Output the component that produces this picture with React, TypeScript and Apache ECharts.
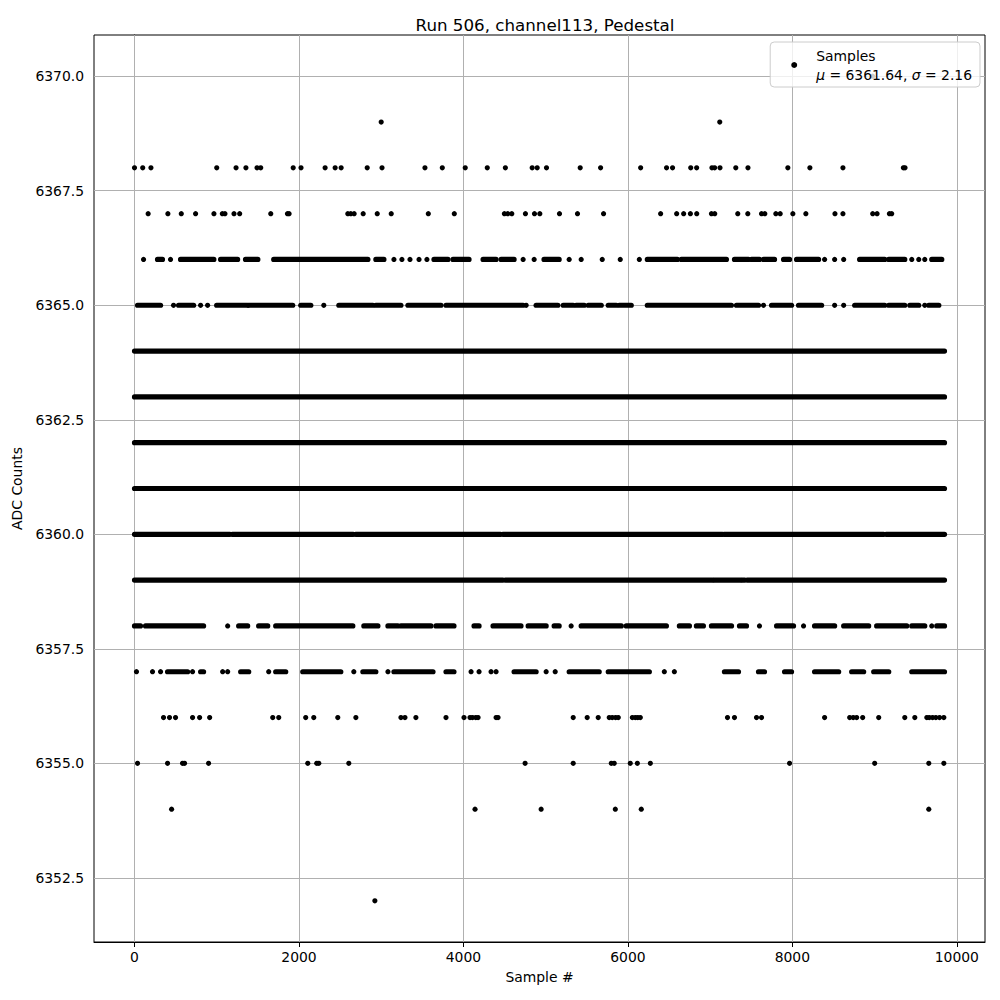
import React, { useEffect, useRef } from "react";
import * as echarts from "echarts";

// ---- Data (sample index positions per ADC level) ----
const xTicks = [0, 2000, 4000, 6000, 8000, 10000];
const yTicks = [6352.5, 6355, 6357.5, 6360, 6362.5, 6365, 6367.5, 6370];

// isolated samples
const row6370 = [8976];
const row6369 = [3000, 7117];
const row6368 = [0, 100, 200, 1000, 1235, 1355, 1490, 1535, 1930, 2025, 2318, 2440, 2513, 2830, 3010, 3532, 3743, 4022, 4290, 4510, 4836, 4897, 5010, 5420, 5668, 6155, 6470, 6543, 6764, 6836, 7022, 7055, 7120, 7312, 7460, 7945, 8213, 8615, 9350, 9370];
const row6367 = [166, 406, 569, 743, 966, 1068, 1100, 1210, 1279, 1657, 1860, 1880, 2594, 2630, 2671, 2781, 2952, 3122, 3573, 3889, 4498, 4539, 4588, 4754, 4864, 4929, 5168, 5387, 5704, 6398, 6593, 6678, 6760, 6837, 7016, 7056, 7336, 7458, 7625, 7665, 7799, 7852, 8006, 8164, 8518, 8615, 8977, 9030, 9180, 9208];
const row6366 = [110, 438, 3155, 3252, 3350, 3460, 3556, 4726, 4860, 5286, 5432, 5688, 5907, 6139, 8392, 8514, 8624, 9452, 9537, 9610];
const row6365 = [475, 804, 889, 2302, 4763, 7649, 8514, 8624, 9610];
const row6358 = [1133, 5310, 7600, 8136, 9695];
const row6357 = [24, 219, 317, 706, 1072, 1133, 1632, 2667, 3082, 4093, 4190, 4336, 4397, 5006, 5116, 6443, 6565];
const row6356 = [353, 426, 499, 706, 792, 914, 1681, 1754, 2082, 2180, 2472, 2692, 3240, 3289, 3422, 3788, 4007, 4080, 4110, 4150, 4178, 4397, 4421, 5335, 5505, 5639, 5773, 5810, 5850, 5883, 6054, 6090, 6120, 6151, 7211, 7296, 7564, 7625, 8392, 8697, 8740, 8782, 8855, 9050, 9367, 9489, 9635, 9665, 9705, 9745, 9790, 9842];
const row6355 = [37, 402, 584, 609, 901, 2107, 2216, 2241, 2606, 4750, 5335, 5798, 5834, 6029, 6115, 6273, 7966, 9001, 9659, 9842];
const row6354 = [451, 4141, 4945, 5847, 6163, 9659];
const row6352 = [2923];

// runs of samples so dense that they merge into a continuous band [start, end]
const spans6366 = [[280, 340], [560, 965], [1047, 1254], [1350, 1500], [1693, 2838], [2935, 3033], [3642, 3812], [3873, 4068], [4239, 4397], [4458, 4616], [4980, 5164], [6236, 6602], [6650, 7198], [7296, 7466], [7503, 7600], [7649, 7783], [7893, 7966], [8051, 8319], [8818, 9123], [9172, 9367], [9695, 9817]];
const spans6365 = [[37, 317], [536, 719], [999, 1376], [1389, 1924], [2022, 2144], [2485, 2899], [2935, 3240], [3325, 3727], [3788, 4726], [4884, 5148], [5213, 5335], [5371, 5469], [5518, 5676], [5761, 5859], [5895, 6041], [6236, 7259], [7320, 7588], [7747, 7990], [8075, 8356], [8758, 9123], [9172, 9367], [9428, 9537], [9659, 9781]];
const spans6364 = [[0, 9850]];
const spans6363 = [[0, 9850]];
const spans6362 = [[0, 9850]];
const spans6361 = [[0, 9850]];
const spans6360 = [[0, 1160], [1190, 2660], [2690, 4450], [4480, 7150], [7170, 9110], [9140, 9850]];
const spans6359 = [[0, 4480], [4510, 7030], [7050, 7370], [7390, 7420], [7450, 9850]];
const spans6358 = [[0, 73], [134, 840], [1267, 1376], [1510, 1620], [1717, 2655], [2789, 2960], [3082, 3203], [3240, 3605], [3666, 3885], [4129, 4190], [4360, 4700], [4787, 5006], [5103, 5164], [5432, 5920], [5980, 6468], [6626, 6748], [6833, 6918], [7016, 7260], [7357, 7442], [7808, 8014], [8270, 8514], [8624, 8928], [9025, 9391], [9452, 9610], [9756, 9850]];
const spans6357 = [[402, 646], [804, 840], [1291, 1389], [1717, 1839], [2046, 2509], [2777, 2935], [3155, 3630], [3788, 3885], [4616, 4884], [5286, 5651], [5761, 6261], [7174, 7345], [7588, 7661], [7905, 7990], [8270, 8563], [8721, 8867], [8989, 9172], [9452, 9850]];

const pointRows: [number, number[]][] = [
  [6370, row6370], [6369, row6369], [6368, row6368], [6367, row6367], [6366, row6366],
  [6365, row6365], [6358, row6358], [6357, row6357], [6356, row6356], [6355, row6355],
  [6354, row6354], [6352, row6352],
];
const spanRows: [number, number[][]][] = [
  [6366, spans6366], [6365, spans6365], [6364, spans6364], [6363, spans6363], [6362, spans6362],
  [6361, spans6361], [6360, spans6360], [6359, spans6359], [6358, spans6358], [6357, spans6357],
];

const FONT = "DejaVu Sans";

export default function App() {
  const ref = useRef<HTMLDivElement>(null);
  useEffect(() => {
    if (!ref.current) return;
    const chart = echarts.init(ref.current, undefined, { renderer: "svg" });
    const scatterData: number[][] = [];
    pointRows.forEach(([lvl, xs]) => xs.forEach((x) => scatterData.push([x, lvl])));
    const spanData: number[][] = [];
    spanRows.forEach(([lvl, sp]) => sp.forEach(([a, b]) => spanData.push([a, b, lvl])));
    const R = 2.6;
    const gridLines = [
      ...xTicks.map((v) => ({ xAxis: v })),
      ...yTicks.map((v) => ({ yAxis: v })),
    ];
    chart.setOption({
      animation: false,
      backgroundColor: "#fff",
      title: {
        text: "Run 506, channel113, Pedestal",
        left: 540,
        textAlign: "center",
        top: 11,
        textStyle: { fontFamily: FONT, fontSize: 16.7, fontWeight: "normal", color: "#000" },
      },
      legend: {
        data: ["Samples"],
        right: 20,
        top: 42,
        orient: "vertical",
        backgroundColor: "rgba(255,255,255,0.8)",
        borderColor: "#cccccc",
        borderWidth: 1,
        borderRadius: 4,
        padding: [4, 8, 3, 21],
        itemWidth: 34,
        itemHeight: 6,
        icon: "circle",
        itemStyle: { opacity: 1, color: "#000" },
        formatter: () => "Samples\n{i|μ} = 6361.64, {i|σ} = 2.16",
        textStyle: {
          fontFamily: FONT,
          fontSize: 13.9,
          lineHeight: 19,
          color: "#000",
          rich: { i: { fontStyle: "italic", fontFamily: FONT, fontSize: 13.9, color: "#000" } },
        },
      },
      grid: {
        left: 94,
        right: 15,
        top: 35,
        bottom: 58,
        show: true,
        borderColor: "#000",
        borderWidth: 1,
        backgroundColor: "transparent",
      },
      xAxis: {
        type: "value",
        min: -492.5,
        max: 10342.5,
        name: "Sample #",
        nameLocation: "middle",
        nameGap: 28,
        nameTextStyle: { fontFamily: FONT, fontSize: 13.9, color: "#000" },
        axisLine: { show: true, lineStyle: { color: "#000", width: 1 } },
        axisTick: { show: true, inside: false, length: 5, lineStyle: { color: "#000" }, customValues: xTicks },
        axisLabel: {
          customValues: xTicks,
          margin: 8,
          fontFamily: FONT,
          fontSize: 13.9,
          color: "#000",
          formatter: (v: number) => String(Math.round(v)),
        },
        splitLine: { show: false },
      },
      yAxis: {
        type: "value",
        min: 6351.1,
        max: 6370.9,
        name: "ADC Counts",
        nameLocation: "middle",
        nameGap: 63,
        nameTextStyle: { fontFamily: FONT, fontSize: 13.9, color: "#000" },
        axisLine: { show: true, lineStyle: { color: "#000", width: 1 } },
        axisTick: { show: true, inside: false, length: 5, lineStyle: { color: "#000" }, customValues: yTicks },
        axisLabel: {
          customValues: yTicks,
          margin: 10,
          fontFamily: FONT,
          fontSize: 13.9,
          color: "#000",
          formatter: (v: number) => v.toFixed(1),
        },
        splitLine: { show: false },
      },
      series: [
        {
          name: "Samples",
          type: "scatter",
          symbol: "circle",
          symbolSize: 5.2,
          itemStyle: { color: "#000", opacity: 1 },
          data: scatterData,
          z: 3,
          markLine: {
            silent: true,
            symbol: ["none", "none"],
            label: { show: false },
            lineStyle: { color: "#b0b0b0", width: 1, type: "solid" },
            emphasis: { disabled: true },
            z: 1,
            data: gridLines,
          },
        },
        {
          name: "SamplesDense",
          type: "custom",
          z: 3,
          encode: { x: [0, 1], y: 2 },
          data: spanData,
          renderItem: (params: any, api: any) => {
            const s = api.coord([api.value(0), api.value(2)]);
            const e = api.coord([api.value(1), api.value(2)]);
            return {
              type: "rect",
              shape: { x: s[0] - R, y: s[1] - R, width: e[0] - s[0] + 2 * R, height: 2 * R, r: R },
              style: { fill: "#000" },
            };
          },
        },
      ],
    });
    return () => chart.dispose();
  }, []);
  return (
    <div
      ref={ref}
      style={{ position: "fixed", left: 0, top: 0, width: 1000, height: 1000 }}
    />
  );
}
